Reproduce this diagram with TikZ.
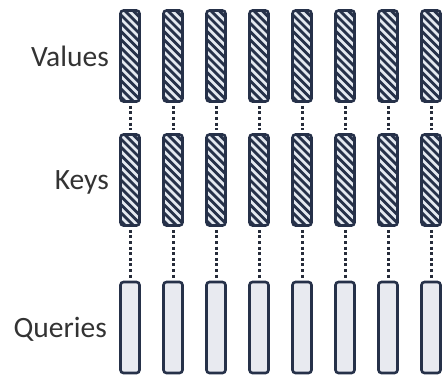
\documentclass[tikz,border=0pt]{standalone}
\usepackage{fontspec}
\setmainfont{Carlito}
\definecolor{barline}{HTML}{263149}
\definecolor{hatchbg}{HTML}{E4E9F0}
\definecolor{qfill}{HTML}{E8EAF0}
\definecolor{labelc}{HTML}{333333}
\definecolor{dotc}{HTML}{262C3A}
\tikzset{
  barbase/.style={draw=barline, line width=2.6pt, rounded corners=3pt, inner sep=0pt,
    minimum width=19pt, minimum height=91pt},
  hatchbar/.style={barbase, fill=hatchbg,
    path picture={
      \foreach \k in {-4,...,13}{
        \draw[barline, line width=2.8pt]
          ([yshift=-\k*8.2pt, xshift=-4pt]path picture bounding box.north west)
          -- ++(30pt,-30pt);
      }
    }},
  plainbar/.style={barbase, fill=qfill},
  dotline/.style={draw=dotc, line width=3pt, dash pattern=on 3pt off 2.6pt},
  rowlabel/.style={anchor=east, text=labelc, font=\fontsize{29.5}{32}\selectfont, inner sep=0pt}
}
\begin{document}
\begin{tikzpicture}[x=1pt,y=-1pt]
\useasboundingbox (0,0) rectangle (444,376);
\node[rowlabel] (lv) at (109,56) {Values};
\node[rowlabel] (lk) at (109,182) {Keys};
\node[rowlabel] (lq) at (107,329) {Queries};
\foreach \i in {1,...,8}{
  \pgfmathsetmacro{\cx}{130+43*(\i-1)}
  \node[hatchbar] (v\i) at (\cx,56) {};
  \node[hatchbar] (k\i) at (\cx,180) {};
  \node[plainbar] (q\i) at (\cx,327.5) {};
  \draw[dotline] ([yshift=-3pt]v\i.south) -- ([yshift=3pt]k\i.north);
  \draw[dotline] ([yshift=-3pt]k\i.south) -- ([yshift=3pt]q\i.north);
}
\end{tikzpicture}
\end{document}
